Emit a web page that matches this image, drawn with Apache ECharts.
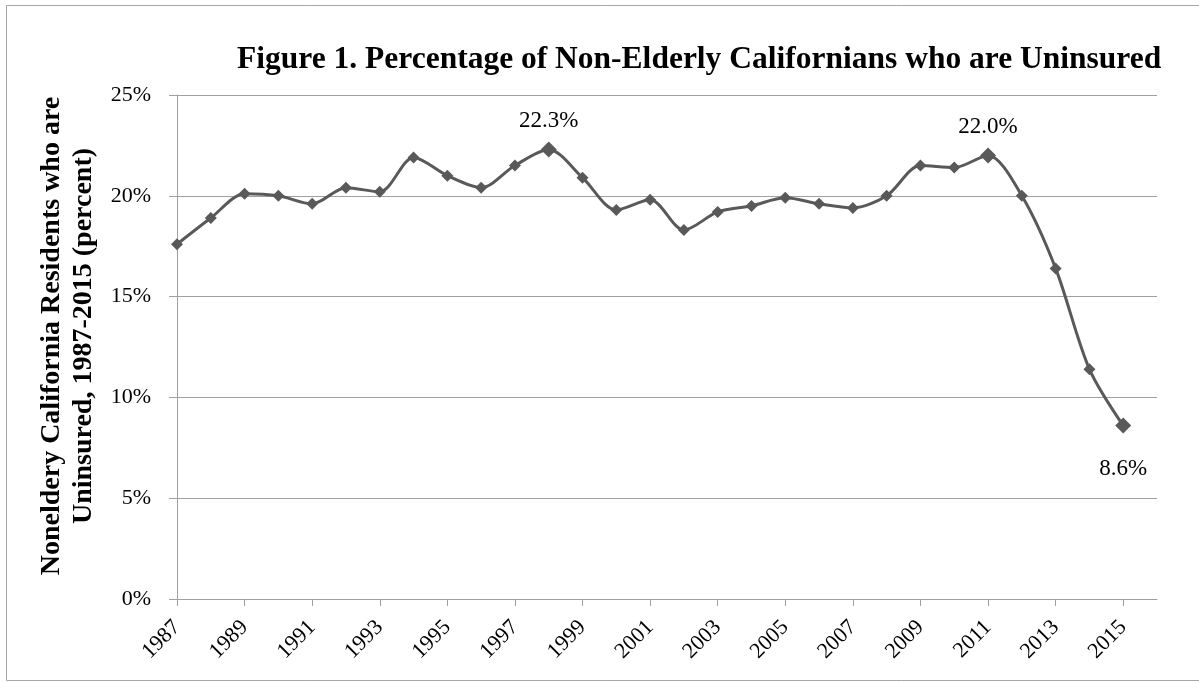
<!DOCTYPE html>
<html>
<head>
<meta charset="utf-8">
<script src="https://cdn.jsdelivr.net/npm/echarts@6/dist/echarts.min.js"></script>
<style>
  html, body { margin: 0; padding: 0; background: #fff; }
  #chart { width: 1199px; height: 682px; }
</style>
</head>
<body>
<div id="chart"></div>
<script>
const years = [1987, 1988, 1989, 1990, 1991, 1992, 1993, 1994, 1995, 1996,
  1997, 1998, 1999, 2000, 2001, 2002, 2003, 2004, 2005, 2006,
  2007, 2008, 2009, 2010, 2011, 2012, 2013, 2014, 2015]
const uninsured = [17.6, 18.9, 20.1, 20.0, 19.6, 20.4, 20.2, 21.9, 21.0, 20.4,
  21.5, 22.3, 20.9, 19.3, 19.8, 18.3, 19.2, 19.5, 19.9, 19.6,
  19.4, 20.0, 21.5, 21.4, 22.0, 20.0, 16.4, 11.4, 8.6]
const labelledYears = [1998, 2011, 2015]
const yTicks = [0, 5, 10, 15, 20, 25]

const font = "'Liberation Serif', 'Times New Roman', serif"
const tickYears = years.filter(y => (y - 1987) % 2 === 0)

const chart = echarts.init(document.getElementById('chart'))

const seriesData = years.map((y, i) => {
  const item = { value: [y, uninsured[i]] }
  if (labelledYears.includes(y)) {
    item.symbolSize = 16
    item.label = {
      show: true,
      position: y === 2015 ? 'bottom' : 'top',
      distance: y === 2015 ? 24 : 9,
      formatter: p => p.value[1].toFixed(1) + '%',
      fontFamily: font,
      fontSize: 23,
      color: '#000'
    }
  }
  return item
})

const option = {
  animation: false,
  backgroundColor: '#fff',
  title: {
    text: 'Figure 1. Percentage of Non-Elderly Californians who are Uninsured',
    left: 232,
    top: 39,
    textStyle: { fontFamily: font, fontSize: 31.5, fontWeight: 'bold', color: '#000' }
  },
  graphic: [{
    type: 'rect',
    shape: { x: 6.5, y: 5.5, width: 1200, height: 675 },
    style: { fill: 'none', stroke: '#a6a6a6', lineWidth: 1 },
    silent: true
  }],
  grid: { left: 177, right: 42, top: 95, bottom: 83 },
  xAxis: {
    type: 'value',
    min: 1987,
    max: 2016,
    splitLine: { show: false },
    axisLine: { lineStyle: { color: '#a0a0a0', width: 1 } },
    axisTick: { show: true, length: 7, lineStyle: { color: '#a0a0a0' }, customValues: tickYears },
    axisLabel: {
      customValues: tickYears,
      rotate: 45,
      margin: 25,
      fontFamily: font,
      fontSize: 22,
      color: '#000',
      formatter: v => String(v)
    }
  },
  yAxis: {
    type: 'value',
    min: yTicks[0],
    max: yTicks[yTicks.length - 1],
    interval: 5,
    name: 'Noneldery California Residents who are\nUninsured, 1987-2015 (percent)',
    nameLocation: 'middle',
    nameRotate: 90,
    nameGap: 53,
    nameTextStyle: {
      fontFamily: font, fontSize: 28, fontWeight: 'bold', color: '#000',
      lineHeight: 32, padding: [0, 0, 0, 22]
    },
    axisLine: { show: true, lineStyle: { color: '#a0a0a0', width: 1 } },
    axisTick: { show: true, length: 8, lineStyle: { color: '#a0a0a0' } },
    splitLine: { lineStyle: { color: '#a0a0a0', width: 1 } },
    axisLabel: {
      margin: 26,
      fontFamily: font,
      fontSize: 22,
      color: '#000',
      formatter: v => v + '%'
    }
  },
  series: [{
    type: 'line',
    data: seriesData,
    smooth: 0.3,
    symbol: 'diamond',
    symbolSize: 12,
    lineStyle: { color: '#595959', width: 3 },
    itemStyle: { color: '#595959' }
  }]
}

chart.setOption(option)
</script>
</body>
</html>
